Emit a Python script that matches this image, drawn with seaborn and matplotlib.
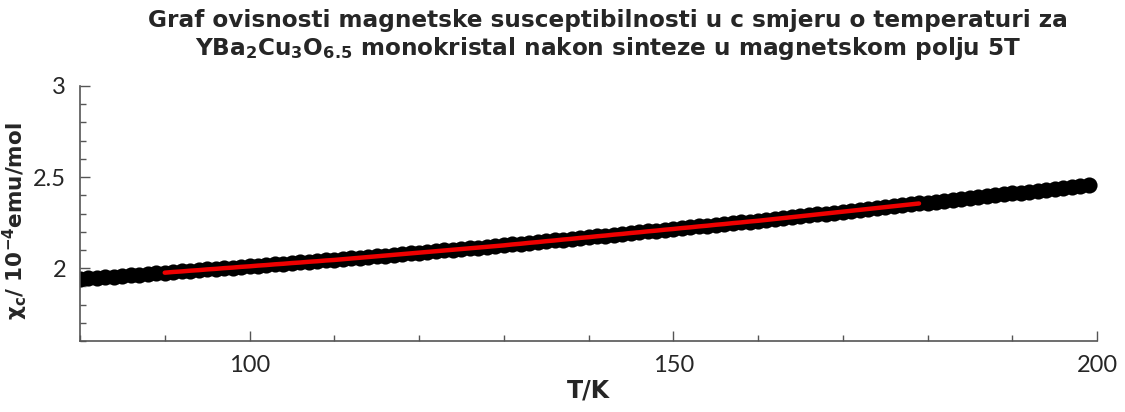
import numpy as np
import pandas as pd
import matplotlib
matplotlib.use("Agg")
import matplotlib.pyplot as plt
from matplotlib.ticker import MultipleLocator, FixedLocator
import seaborn as sns

# Measured susceptibility along c, one sample per kelvin (T = 80 ... 199 K)
temperature = list(range(80, 200))
chi_c = [
    1.940, 1.944, 1.947, 1.951, 1.954, 1.958, 1.961, 1.965, 1.968, 1.972,
    1.975, 1.979, 1.982, 1.986, 1.989, 1.993, 1.996, 2.000, 2.003, 2.007,
    2.010, 2.014, 2.017, 2.021, 2.024, 2.028, 2.031, 2.035, 2.038, 2.042,
    2.045, 2.049, 2.053, 2.057, 2.061, 2.065, 2.069, 2.073, 2.077, 2.081,
    2.085, 2.089, 2.093, 2.097, 2.101, 2.105, 2.109, 2.113, 2.117, 2.121,
    2.125, 2.130, 2.134, 2.139, 2.143, 2.148, 2.152, 2.157, 2.161, 2.166,
    2.170, 2.175, 2.179, 2.184, 2.188, 2.193, 2.197, 2.202, 2.206, 2.211,
    2.215, 2.220, 2.224, 2.229, 2.233, 2.238, 2.242, 2.247, 2.251, 2.256,
    2.260, 2.265, 2.270, 2.275, 2.280, 2.285, 2.290, 2.295, 2.300, 2.305,
    2.310, 2.315, 2.320, 2.325, 2.330, 2.335, 2.340, 2.345, 2.350, 2.355,
    2.360, 2.365, 2.370, 2.375, 2.380, 2.385, 2.390, 2.395, 2.400, 2.405,
    2.410, 2.415, 2.420, 2.425, 2.430, 2.435, 2.440, 2.445, 2.450, 2.455,
]

# Temperature window used for the fit
fit_range = (90, 179)

x_ticks = [100, 150, 200]
y_ticks = [2.0, 2.5, 3.0]
y_tick_labels = ["2", "2.5", "3"]

df = pd.DataFrame({"T": temperature, "chi": chi_c})
fit_df = df[(df["T"] >= fit_range[0]) & (df["T"] <= fit_range[1])]

sns.set_theme(style="white")
plt.rcParams["font.family"] = ["DejaVu Sans"]
plt.rcParams["mathtext.fontset"] = "dejavusans"

fig = plt.figure(figsize=(11.25, 4.12), dpi=100)
ax = fig.add_axes([80 / 1125, 1 - 341 / 412, (1097 - 80) / 1125, (341 - 86) / 412])

sns.scatterplot(data=df, x="T", y="chi", ax=ax, color="black", s=135,
                linewidth=0, legend=False, zorder=2)
sns.lineplot(data=fit_df, x="T", y="chi", ax=ax, color="#ee0000",
             linewidth=3.2, legend=False, zorder=3)

ax.set_xlim(80, 200)
ax.set_ylim(1.6, 3.0)

ax.xaxis.set_major_locator(FixedLocator(x_ticks))
ax.xaxis.set_minor_locator(MultipleLocator(10))
ax.yaxis.set_major_locator(FixedLocator(y_ticks))
ax.yaxis.set_minor_locator(MultipleLocator(0.1))
ax.set_yticklabels(y_tick_labels)

spine_color = "#555555"
for side in ("top", "right"):
    ax.spines[side].set_visible(False)
for side in ("left", "bottom"):
    ax.spines[side].set_color(spine_color)
    ax.spines[side].set_linewidth(1.2)

ax.tick_params(which="both", direction="in", color=spine_color, width=1.0,
               left=True, bottom=True)
ax.tick_params(which="major", length=7, pad=10)
ax.tick_params(which="minor", length=4)
for lbl in ax.get_xticklabels() + ax.get_yticklabels():
    lbl.set_fontfamily("Lato")
    lbl.set_fontsize(17)

ax.set_xlabel("T/K", fontsize=17, fontweight="bold", labelpad=2)
ax.set_ylabel(r"χ$_\mathbf{c}$/ 10$^\mathbf{-4}$emu/mol", fontsize=15.5,
              fontweight="bold")
ax.yaxis.set_label_coords((30 - 80) / 1017, 0.47)

fig.text(608 / 1125, 1 - 20 / 412,
         "Graf ovisnosti magnetske susceptibilnosti u c smjeru o temperaturi za",
         ha="center", va="center", fontsize=16.7, fontweight="bold")
fig.text(608 / 1125, 1 - 48 / 412,
         r"YBa$_\mathbf{2}$Cu$_\mathbf{3}$O$_\mathbf{6.5}$ monokristal nakon sinteze u magnetskom polju 5T",
         ha="center", va="center", fontsize=16.7, fontweight="bold")

fig.savefig("out.png", dpi=100, facecolor="white")
